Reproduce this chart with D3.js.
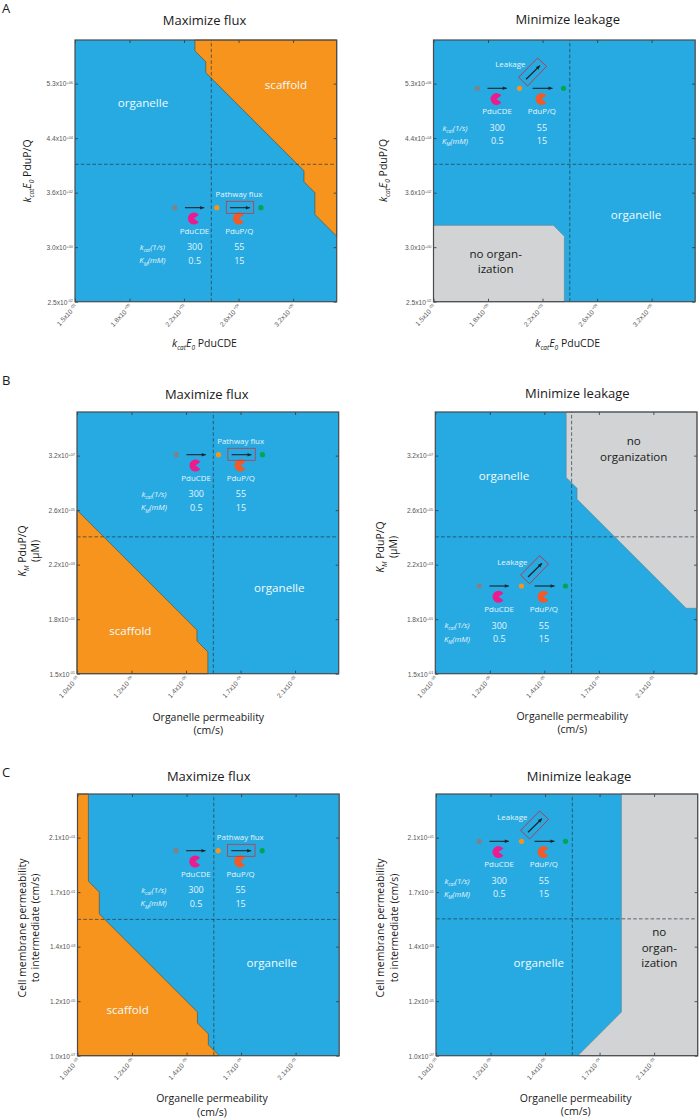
<!DOCTYPE html>
<html><head><meta charset="utf-8">
<script src="https://cdnjs.cloudflare.com/ajax/libs/d3/7.8.5/d3.min.js"></script>
<style>html,body{margin:0;padding:0;background:#fff}svg{display:block}text{font-family:"Open Sans",sans-serif}</style>
</head><body><svg id="c" width="700" height="1119"></svg>
<script>
// ---- tick labels (mantissa, exponent); ticks sit at indices 0..4 of a 0..4.8 grid
const xTicksEnzyme=[["1.5x10","-02"],["1.8x10","+00"],["2.2x10","+02"],["2.6x10","+04"],["3.2x10","+06"]];
const yTicksEnzyme=[["2.5x10","-02"],["3.0x10","+00"],["3.6x10","+02"],["4.4x10","+04"],["5.3x10","+06"]];
const xTicksPerm=[["1.0x10","-10"],["1.2x10","-08"],["1.4x10","-06"],["1.7x10","-04"],["2.1x10","-02"]];
const yTicksKm=[["1.5x10","-01"],["1.8x10","+01"],["2.2x10","+03"],["2.6x10","+05"],["3.2x10","+07"]];
const yTicksCell=[["1.0x10","-07"],["1.2x10","-05"],["1.4x10","-03"],["1.7x10","-01"],["2.1x10","+01"]];
// ---- phase-boundary regions, in grid units
const regionAFlux=[[2.2,4.8],[2.2,4.6],[2.4,4.4],[2.4,4.2],[4.2,2.4],[4.2,2.2],[4.4,2.0],[4.4,1.6],[4.8,1.2],[4.8,4.8]];
const regionALeak=[[0,0],[0,1.4],[2.2,1.4],[2.4,1.2],[2.4,0]];
const regionBFlux=[[0,0],[0,3.0],[2.2,0.8],[2.2,0.6],[2.4,0.4],[2.4,0]];
const regionBLeak=[[2.4,4.8],[2.4,3.6],[2.6,3.4],[2.6,3.2],[4.6,1.2],[4.8,1.2],[4.8,4.8]];
const regionCFlux=[[0,0],[0,4.8],[0.2,4.8],[0.2,3.2],[0.4,3.0],[0.4,2.6],[2.2,0.8],[2.2,0.6],[2.4,0.4],[2.4,0.2],[2.6,0]];
const regionCLeak=[[3.4,4.8],[3.4,0.8],[2.6,0],[4.8,0],[4.8,4.8]];
// ---- reference (dashed) lines in grid units
const refX=[2.5,2.5,2.5,2.5,2.5,2.5];
const refY=[2.52,2.52,2.51,2.51,2.5,2.51];
// ---- pathway table
const enzymes=["PduCDE","PduP/Q"];
const kcatValues=["300","55"];
const kmValues=["0.5","15"];

const BLUE="#27aae1",ORANGE="#f7941e",GREY="#d1d3d4",PALE="#e6f4fb";
const GRID=[0,4.8],TICKS=[0,1,2,3,4];
const svg=d3.select("#c");

const xKcat=[["k","i"],["cat","s"],["E","i"],["0","s"],[" PduCDE",""]];
const yKcat=[["k","i"],["cat","s"],["E","i"],["0","s"],[" PduP/Q",""]];
const yKm=[["K","i"],["M","s"],[" PduP/Q",""]];

const panels=[
 {l:75,t:40,xt:xTicksEnzyme,yt:yTicksEnzyme,fill:ORANGE,reg:regionAFlux,mode:"flux",a:[174.7,207.7],
  title:"Maximize flux",tp:[204.5,24.7],letter:["A",13.3],
  xl:{x:204.5,y:[346.7],lines:[xKcat]},yl:{y:171,x:[31],lines:[yKcat]},
  txt:[["organelle",143,107,1],["scaffold",286,88.7,1]]},
 {l:433.5,t:40,xt:xTicksEnzyme,yt:yTicksEnzyme,fill:GREY,reg:regionALeak,mode:"leak",a:[477.3,88.3],
  title:"Minimize leakage",tp:[567.7,24],
  xl:{x:567.7,y:[347],lines:[xKcat]},yl:{y:170.5,x:[386.7],lines:[yKcat]},
  txt:[["organelle",636,219,1],["no organ-",495.7,258.3,0],["ization",495.7,273.3,0]]},
 {l:77,t:412,xt:xTicksPerm,yt:yTicksKm,fill:ORANGE,reg:regionBFlux,mode:"flux",a:[176.3,454.7],
  title:"Maximize flux",tp:[206.7,398.7],letter:["B",385],
  xl:{x:208.3,y:[720.7,734],lines:[[["Organelle permeability",""]],[["(cm/s)",""]]]},
  yl:{y:551,x:[26,39.3],lines:[yKm,[["(µM)",""]]]},
  txt:[["organelle",279.3,592.3,1],["scaffold",130.3,635.3,1]]},
 {l:435.3,t:412,xt:xTicksPerm,yt:yTicksKm,fill:GREY,reg:regionBLeak,mode:"leak",a:[479.3,586],
  title:"Minimize leakage",tp:[577.3,398.3],
  xl:{x:572.3,y:[720,733.3],lines:[[["Organelle permeability",""]],[["(cm/s)",""]]]},
  yl:{y:547,x:[384.3,397.3],lines:[yKm,[["(µM)",""]]]},
  txt:[["organelle",504,480.3,1],["no",633.7,445,0],["organization",633.7,460.7,0]]},
 {l:77.5,t:794,xt:xTicksPerm,yt:yTicksCell,fill:ORANGE,reg:regionCFlux,mode:"flux",a:[176,850.7],
  title:"Maximize flux",tp:[208.7,781.3],letter:["C",776.7],
  xl:{x:212,y:[1102,1115.7],lines:[[["Organelle permeability",""]],[["(cm/s)",""]]]},
  yl:{y:928,x:[26,39],lines:[[["Cell membrane permeability",""]],[["to intermediate (cm/s)",""]]]},
  txt:[["organelle",271.7,967.3,1],["scaffold",127.7,1014,1]]},
 {l:436,t:794,xt:xTicksPerm,yt:yTicksCell,fill:GREY,reg:regionCLeak,mode:"leak",a:[479.3,841.3],
  title:"Minimize leakage",tp:[579,780.7],
  xl:{x:575.7,y:[1101.7,1115],lines:[[["Organelle permeability",""]],[["(cm/s)",""]]]},
  yl:{y:928,x:[384,397.7],lines:[[["Cell membrane permeability",""]],[["to intermediate (cm/s)",""]]]},
  txt:[["organelle",538.7,967.3,1],["no",659.3,935.7,0],["organ-",659.3,951.7,0],["ization",659.3,966.7,0]]}
];

function rich(t,parts,fs){
  parts.forEach(([s,k],i)=>{
    const ts=t.append("tspan").text(s);
    if(k==="i")ts.attr("font-style","italic");
    if(k==="s")ts.attr("font-style","italic").attr("font-size",fs*0.62).attr("dy",fs*0.28);
    else if(i>0&&parts[i-1][1]==="s")ts.attr("dy",-fs*0.28);
  });
}
function arrow(g,x1,y1,x2,y2,w){
  g.append("line").attr("x1",x1).attr("y1",y1).attr("x2",x2).attr("y2",y2).attr("stroke","#1c2429").attr("stroke-width",w||1.1);
  const an=Math.atan2(y2-y1,x2-x1),L=4,W=1.8;
  const p=[[x2,y2],[x2-L*Math.cos(an)+W*Math.sin(an),y2-L*Math.sin(an)-W*Math.cos(an)],[x2-L*Math.cos(an)-W*Math.sin(an),y2-L*Math.sin(an)+W*Math.cos(an)]];
  g.append("path").attr("d",d3.line()(p)+"Z").attr("fill","#1c2429");
}
const pacArc=d3.arc().innerRadius(0).outerRadius(6).startAngle(Math.PI/2+0.62).endAngle(Math.PI*2.5-0.62);

function schematic(p){
  const g=svg.append("g").attr("transform",`translate(${p.a[0]},${p.a[1]})`);
  const lab=(s,x,y,fs,anchor)=>g.append("text").attr("x",x).attr("y",y).attr("text-anchor",anchor||"middle").attr("font-size",fs).attr("fill",PALE).text(s);
  [[0,"#808285"],[42.2,ORANGE],[86.2,"#00a651"]].forEach(([x,c])=>g.append("circle").attr("cx",x).attr("cy",0).attr("r",2.6).attr("fill",c));
  arrow(g,10.2,0,29.5,0);arrow(g,55.3,0,75.2,0);
  g.append("path").attr("d",pacArc).attr("transform","translate(19.2,10.8)").attr("fill","#ec1c8e");
  g.append("path").attr("d",pacArc).attr("transform","translate(64.2,10.8)").attr("fill","#f15a29");
  if(p.mode==="flux"){
    g.append("rect").attr("x",51.6).attr("y",-6.4).attr("width",27.4).attr("height",12).attr("fill","none").attr("stroke","#c1393f").attr("stroke-width",0.8);
    lab("Pathway flux",64.3,-10.5,7.9);
  }else{
    g.append("path").attr("d",d3.line()([[60.3,-30.3],[69.3,-22],[50.3,-2.3],[41.3,-11]])+"Z").attr("fill","none").attr("stroke","#d2232a").attr("stroke-width",0.8);
    arrow(g,48.7,-9,62.7,-22.7,1.3);
    lab("Leakage",33,-21,7.9);
  }
  lab(enzymes[0],19.8,26,7.9);lab(enzymes[1],64.6,26,7.9);
  lab(kcatValues[0],20,42.5,9);lab(kcatValues[1],64.6,42.5,9);
  lab(kmValues[0],20,56,9);lab(kmValues[1],64.6,56,9);
  const k1=g.append("text").attr("x",-22.3).attr("y",42.3).attr("text-anchor","middle").attr("font-size",7.8).attr("fill",PALE);
  rich(k1,[["k","i"],["cat","s"],["(1/s)","i"]],7.8);
  const k2=g.append("text").attr("x",-22.3).attr("y",55.8).attr("text-anchor","middle").attr("font-size",7.8).attr("fill",PALE);
  rich(k2,[["K","i"],["M","s"],["(mM)","i"]],7.8);
}

panels.forEach((p,i)=>{
  const W=261.7,H=261.7;
  const x=d3.scaleLinear().domain(GRID).range([p.l,p.l+W]);
  const y=d3.scaleLinear().domain(GRID).range([p.t+H,p.t]);
  svg.append("rect").attr("x",x(0)).attr("y",y(4.8)).attr("width",W).attr("height",H).attr("fill",BLUE);
  svg.append("path").attr("d",d3.line().x(d=>x(d[0])).y(d=>y(d[1]))(p.reg)+"Z")
     .attr("fill",p.fill).attr("stroke",p.fill===ORANGE?"#4a4a3a":"#5f7f92").attr("stroke-width",0.6);
  const bottom=d3.axisBottom(x).tickValues(TICKS).tickSizeInner(-3).tickSizeOuter(0).tickFormat("");
  const left=d3.axisLeft(y).tickValues(TICKS).tickSizeInner(-3).tickSizeOuter(0).tickFormat("");
  const top=d3.axisTop(x).tickValues(TICKS).tickSizeInner(-3).tickSizeOuter(0).tickFormat("");
  const right=d3.axisRight(y).tickValues(TICKS).tickSizeInner(-3).tickSizeOuter(0).tickFormat("");
  const dash=(a,b,c,d)=>svg.append("line").attr("x1",a).attr("y1",b).attr("x2",c).attr("y2",d).attr("stroke","#26323a").attr("stroke-opacity",0.75).attr("stroke-width",0.9).attr("stroke-dasharray","3.6 2.2");
  dash(x(refX[i]),y(0),x(refX[i]),y(4.8));
  dash(x(0),y(refY[i]),x(4.8),y(refY[i]));
  [[bottom,`translate(0,${y(0)})`],[left,`translate(${x(0)},0)`],[top,`translate(0,${y(4.8)})`],[right,`translate(${x(4.8)},0)`]].forEach(([a,tr])=>{
    const g=svg.append("g").attr("transform",tr).call(a);
    g.selectAll("line").attr("stroke","#333").attr("stroke-width",0.8);
    g.select(".domain").attr("stroke","none");
  });
  svg.append("rect").attr("x",x(0)).attr("y",y(4.8)).attr("width",W).attr("height",H).attr("fill","none").attr("stroke","#4a4a4a").attr("stroke-width",1.2);
  const tf="#555";
  p.yt.forEach((t,k)=>{
    const e=svg.append("text").attr("x",x(0)-2).attr("y",y(k)+2.8).attr("text-anchor","end").attr("style","font-family:'Liberation Sans'").attr("font-size",6.6).attr("fill",tf);
    e.append("tspan").text(t[0]);
    e.append("tspan").text(t[1]).attr("font-size",3.9).attr("dy",-2.4);
  });
  p.xt.forEach((t,k)=>{
    const px=x(k)+2.5,py=y(0)+5;
    const e=svg.append("text").attr("transform",`translate(${px},${py}) rotate(-48)`).attr("text-anchor","end").attr("style","font-family:'Liberation Sans'").attr("font-size",6.6).attr("fill",tf);
    e.append("tspan").text(t[0]);
    e.append("tspan").text(" "+t[1]).attr("font-size",3.9).attr("dy",-2.4);
  });
  svg.append("text").attr("x",p.tp[0]).attr("y",p.tp[1]).attr("text-anchor","middle").attr("font-size",13).attr("fill","#1a1a1a").text(p.title);
  if(p.letter)svg.append("text").attr("x",2).attr("y",p.letter[1]).attr("font-size",13).attr("fill","#1a1a1a").text(p.letter[0]);
  p.xl.lines.forEach((ln,k)=>{
    const e=svg.append("text").attr("x",p.xl.x).attr("y",p.xl.y[k]).attr("text-anchor","middle").attr("font-size",10.5).attr("fill","#1a1a1a");
    rich(e,ln,10.5);
  });
  p.yl.lines.forEach((ln,k)=>{
    const e=svg.append("text").attr("transform",`translate(${p.yl.x[k]},${p.yl.y}) rotate(-90)`).attr("text-anchor","middle").attr("font-size",10.5).attr("fill","#1a1a1a");
    rich(e,ln,10.5);
  });
  p.txt.forEach(([s,tx,ty,white])=>svg.append("text").attr("x",tx).attr("y",ty).attr("text-anchor","middle").attr("font-size",11.6).attr("fill",white?"#f2fafd":"#1a1a1a").text(s));
  schematic(p);
});
</script></body></html>
